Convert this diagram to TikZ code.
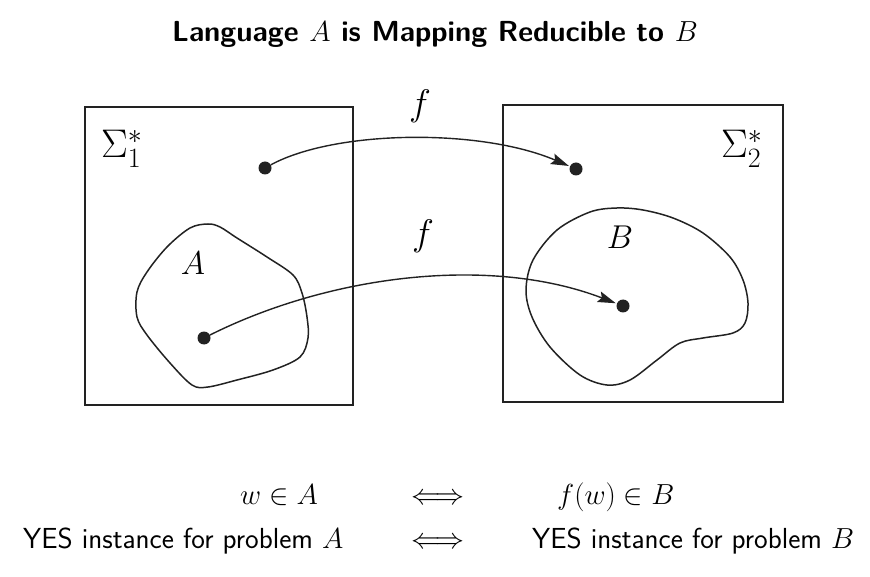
\RequirePackage{fix-cm}
\documentclass[tikz,border=0pt]{standalone}
\usepackage{fontspec}
\usetikzlibrary{arrows.meta}
\definecolor{ink}{HTML}{222222}
\tikzset{
  frame/.style={draw=ink, line width=1.5pt},
  blob/.style={draw=ink, line width=1.5pt},
  dot/.style={circle, fill=ink, inner sep=0pt, minimum size=13pt},
  arr/.style={draw=ink, line width=1.4pt, -{Stealth[length=18pt,width=11pt,inset=3pt]}, shorten >=1pt},
  lbl/.style={inner sep=0pt, font=\fontsize{33}{33}\selectfont},
  flbl/.style={inner sep=0pt, font=\fontsize{37}{37}\selectfont},
  sig/.style={inner sep=0pt, anchor=base west, font=\fontsize{40}{40}\selectfont},
  bottom/.style={inner sep=0pt, anchor=base west, font=\sffamily\fontsize{29}{29}\selectfont}
}
\begin{document}
\begin{tikzpicture}[x=1pt,y=-1pt]
\useasboundingbox (0,0) rectangle (870,577);
% title
\node[inner sep=0pt, anchor=base] (title) at (435,42)
  {\sffamily\bfseries\fontsize{29}{29}\selectfont Language $A$ is Mapping Reducible to $B$};
% frames
\draw[frame] (85,107) rectangle (353,405);
\draw[frame] (503,105) rectangle (783,402);
\node[sig] (s1) at (101,158) {$\Sigma_1^*$};
\node[sig] (s2) at (721,158) {$\Sigma_2^*$};
% blobs
\draw[blob] plot[smooth cycle, tension=0.55] coordinates {
 (208,224) (190,228) (167,247) (147,272) (137,292) (137,317) (147,335)
 (170,363) (192,385) (208,387) (237,380) (273,370) (300,357) (308,338)
 (307,317) (302,293) (293,275) (267,257) (237,238) (220,227)};
\draw[blob] plot[smooth cycle, tension=0.55] coordinates {
 (617,208) (590,212) (557,230) (533,260) (526,290) (532,317) (550,347)
 (580,375) (607,385) (630,380) (657,360) (680,343) (703,338) (733,333)
 (745,323) (748,303) (743,280) (730,257) (703,233) (673,218) (643,210)};
\node[lbl] (la) at (193,263) {$A$};
\node[lbl] (lb) at (620,237) {$B$};
% dots
\node[dot] (p1) at (265,168) {};
\node[dot] (q1) at (576,169) {};
\node[dot] (p2) at (204,338) {};
\node[dot] (q2) at (623,306) {};
% arrows
\draw[arr] (p1) .. controls (335,130) and (480,128) .. (q1);
\draw[arr] (p2) .. controls (330,275) and (490,255) .. (q2);
\node[flbl] (f1) at (420,106) {$f$};
\node[flbl] (f2) at (423,236) {$f$};
% bottom lines
\node[bottom] (r1a) at (240,504) {$w\in A$};
\node[bottom, anchor=base] (r1m) at (438,504) {$\Longleftrightarrow$};
\node[bottom] (r1b) at (557,504) {$f(w)\in B$};
\node[bottom] (r2a) at (23,548) {YES instance for problem $A$};
\node[bottom, anchor=base] (r2m) at (438,548) {$\Longleftrightarrow$};
\node[bottom] (r2b) at (532,548) {YES instance for problem $B$};
\end{tikzpicture}
\end{document}
